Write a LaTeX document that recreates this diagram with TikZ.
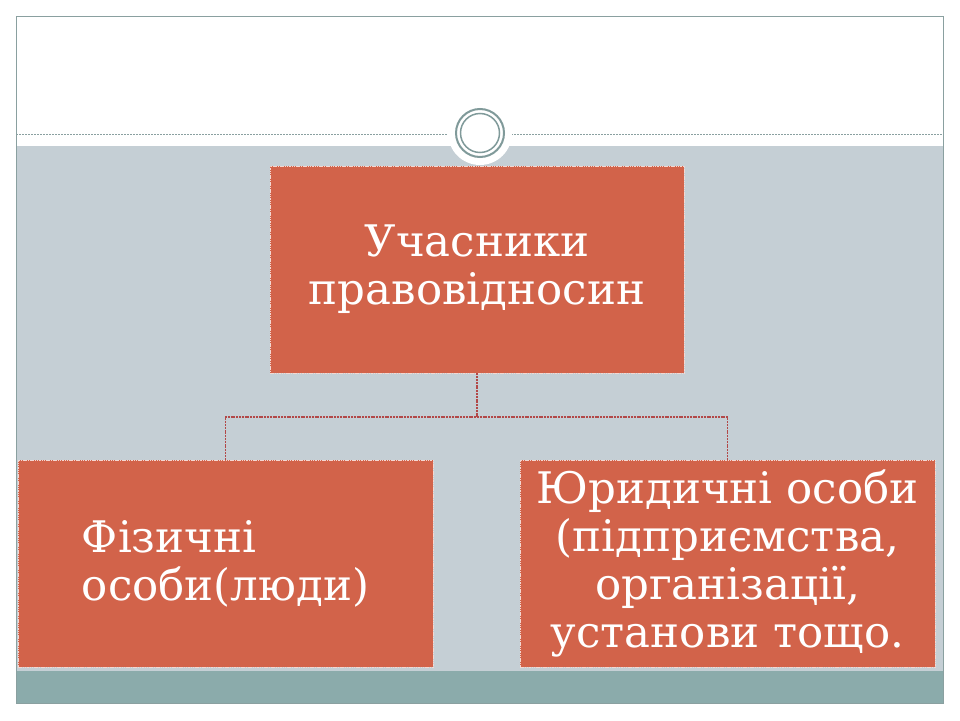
\documentclass[tikz,border=0pt]{standalone}
\usepackage{fontspec}
\setmainfont{DejaVu Serif}
\definecolor{boxred}{RGB}{210,99,74}
\definecolor{bandgrey}{RGB}{197,207,213}
\definecolor{bandteal}{RGB}{139,171,171}
\definecolor{framegrey}{RGB}{138,160,160}
\definecolor{ringcol}{RGB}{128,154,154}
\definecolor{linkcol}{RGB}{178,72,72}
\begin{document}
\begin{tikzpicture}[x=1pt,y=-1pt,
  orgbox/.style={draw=white!75!boxred, line width=0.8pt, dash pattern=on 1.5pt off 0.8pt, fill=boxred, inner sep=0pt, text=white, font=\fontsize{43.5}{48}\selectfont},
  link/.style={draw=linkcol, line width=1.2pt, dash pattern=on 2pt off 0.8pt}]
\useasboundingbox (0,0) rectangle (960,720);
\fill[white] (0,0) rectangle (960,720);
% bands
\fill[bandgrey] (16,146) rectangle (943,671);
\fill[bandteal] (16,671) rectangle (943,703);
\draw[framegrey, line width=1pt] (16,16) rectangle (943,703);
\draw[framegrey, line width=0.6pt, dash pattern=on 2pt off 1pt] (16,134) -- (943,134);
% circle ornament
\fill[white] (480,133) circle (32);
\draw[ringcol, line width=2pt] (480,133) circle (24);
\draw[ringcol, line width=1.5pt] (480,133) circle (19.5);
% boxes
\node[orgbox, minimum width=414pt, minimum height=207pt, align=center] (top) at (477,269.5) {Учасники\\правовідносин};
\node[orgbox, minimum width=415pt, minimum height=207pt, align=left] (left) at (225.5,563.5) {Фізичні\\особи(люди)};
\node[orgbox, minimum width=415pt, minimum height=207pt, align=center] (right) at (727.5,563.5) {Юридичні особи\\(підприємства,\\організації,\\установи тощо.};
% connectors
\coordinate (mid) at (477,417);
\draw[link] (top.south) -- (mid);
\draw[link] (left.north) |- (mid) -| (right.north);
\end{tikzpicture}
\end{document}
